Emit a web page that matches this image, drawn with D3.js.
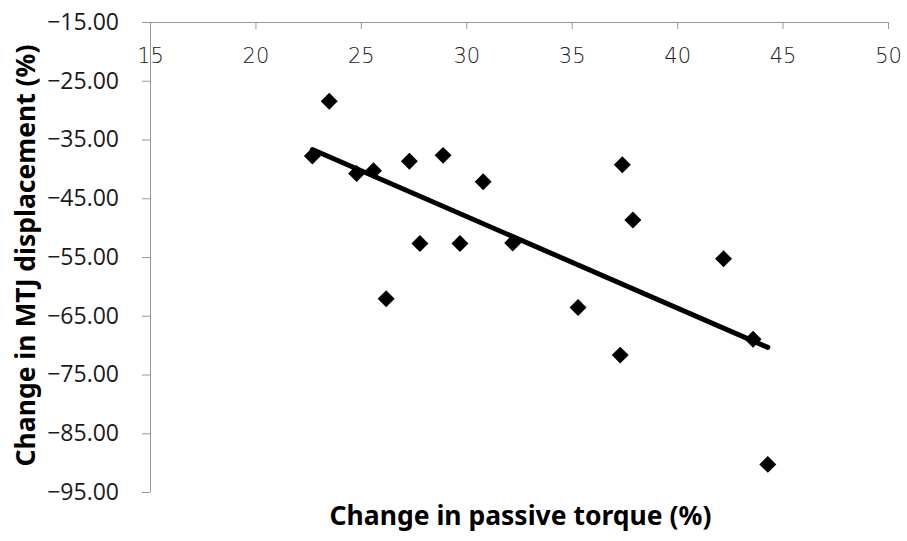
<!DOCTYPE html>
<meta charset="utf-8">
<style>
    body { margin: 0; background: #fff; }
    .x-axis .tick text { font-family: 'DejaVu Sans'; font-weight: 200; font-size: 21px; fill: #222; }
    .y-axis .tick text { font-family: 'Open Sans'; font-size: 23px; fill: #1a1a1a; }
    .title { font-family: 'Noto Sans'; font-weight: bold; font-size: 26.5px; fill: #000; }
</style>
<script src="https://d3js.org/d3.v7.min.js"></script>
<div id="graph"></div>
<script>
    // change in passive torque (%) vs change in MTJ displacement (%)
    const torque = [22.7, 23.5, 24.8, 25.6, 26.2, 27.3, 27.8, 28.9, 29.7, 30.8,
                    32.2, 35.3, 37.3, 37.4, 37.9, 42.2, 43.6, 44.3];
    const mtj = [-37.8, -28.5, -40.8, -40.3, -62.1, -38.7, -52.7, -37.7, -52.7, -42.2,
                 -52.6, -63.6, -71.7, -39.3, -48.7, -55.3, -69.0, -90.3];
    const xTicks = [15, 20, 25, 30, 35, 40, 45, 50];
    const yTicks = [-15, -25, -35, -45, -55, -65, -75, -85, -95];

    const width = 907, height = 541;
    const margin = {top: 22, right: 19, bottom: 49, left: 150};

    const svg = d3.select("#graph").append("svg")
        .attr("width", width)
        .attr("height", height);

    const x = d3.scaleLinear().domain([15, 50]).range([margin.left, width - margin.right]);
    const y = d3.scaleLinear().domain([-15, -95]).range([margin.top, height - margin.bottom]);

    // y axis
    const axisY = svg.append("g")
        .attr("class", "y-axis")
        .attr("transform", `translate(${margin.left},0)`)
        .call(d3.axisLeft(y).tickValues(yTicks).tickFormat(d3.format(".2f")).tickSize(8).tickPadding(23));
    axisY.selectAll("line, path").attr("stroke", "#999");
    axisY.select(".domain").attr("d", `M0.5,${y(-15)}V${y(-95)}`);

    // x axis sits on the top edge, ticks and labels hang below it
    const axisX = svg.append("g")
        .attr("class", "x-axis")
        .attr("transform", `translate(0,${margin.top})`)
        .call(d3.axisBottom(x).tickValues(xTicks).tickSize(7));
    axisX.selectAll("line, path").attr("stroke", "#999");
    axisX.select(".domain").attr("d", `M${margin.left - 8},0.5H${x(50)}`);
    axisX.selectAll("text").attr("y", 41).attr("dy", 0);

    // linear trend line (least squares)
    const mx = d3.mean(torque), my = d3.mean(mtj);
    const slope = d3.sum(torque, (t, i) => (t - mx) * (mtj[i] - my)) / d3.sum(torque, t => (t - mx) ** 2);
    const icpt = my - slope * mx;
    const xr = d3.extent(torque);
    svg.append("line")
        .attr("x1", x(xr[0])).attr("y1", y(icpt + slope * xr[0]))
        .attr("x2", x(xr[1])).attr("y2", y(icpt + slope * xr[1]))
        .attr("stroke", "#000")
        .attr("stroke-width", 5)
        .attr("stroke-linecap", "round");

    // diamonds
    const diamond = d3.symbol().type(d3.symbolSquare).size(144);
    svg.append("g")
        .selectAll("path")
        .data(torque)
        .enter().append("path")
        .attr("d", diamond)
        .attr("transform", (t, i) => `translate(${x(t)},${y(mtj[i])}) rotate(45)`)
        .attr("fill", "#000");

    // axis titles
    svg.append("text")
        .attr("class", "title")
        .attr("x", (331 + 710) / 2)
        .attr("y", 525)
        .attr("text-anchor", "middle")
        .text("Change in passive torque (%)");

    svg.append("text")
        .attr("class", "title")
        .attr("transform", `translate(35,255.5) rotate(-90)`)
        .attr("text-anchor", "middle")
        .text("Change in MTJ displacement (%)");
</script>
